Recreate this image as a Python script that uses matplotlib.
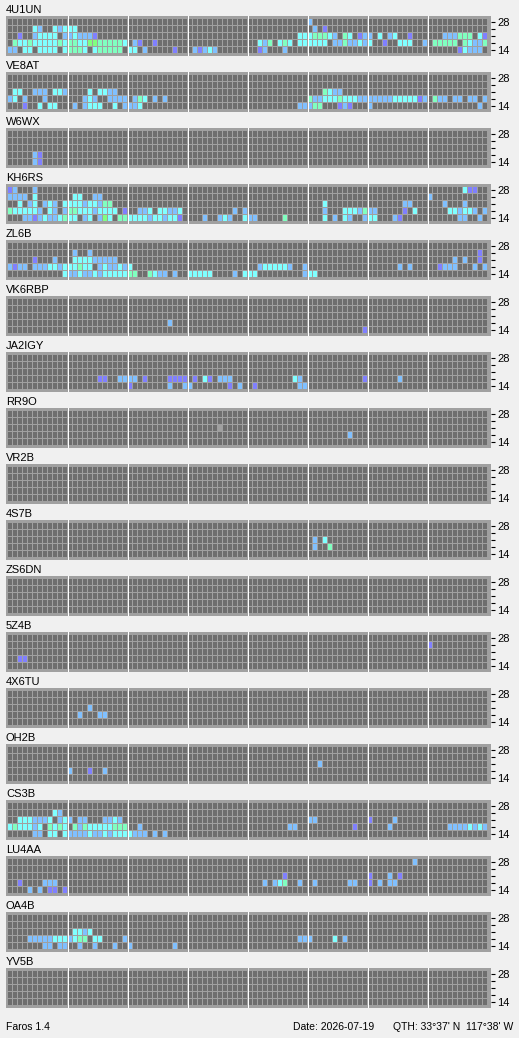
import numpy as np
import matplotlib
matplotlib.use('Agg')
import matplotlib.pyplot as plt
from matplotlib.colors import ListedColormap

plt.rcParams['font.family'] = ['Liberation Sans', 'DejaVu Sans']

# beacon panels, top to bottom
beacons = ['4U1UN', 'VE8AT', 'W6WX', 'KH6RS', 'ZL6B', 'VK6RBP', 'JA2IGY', 'RR9O', 'VR2B',
           '4S7B', 'ZS6DN', '5Z4B', '4X6TU', 'OH2B', 'CS3B', 'LU4AA', 'OA4B', 'YV5B']
bands = ['28', '', '', '', '14']   # row labels, top to bottom
n_slots = 96                        # 15 minute slots over 24 h

# heard spots per beacon: 5 rows (28 .. 14 MHz), "slot:level"
# level 1 weak .. 5 strong, 0 = heard but not decoded
spots = [
    ['60:2',
     '5:3 6:2 9:3 10:2 11:3 12:3 13:3 61:2 63:1',
     '2:1 5:2 6:3 7:3 8:3 9:3 11:2 12:2 13:3 14:2 15:2 16:2 17:1 58:3 59:3 60:3 61:4 62:4 63:4 64:3 65:2 '
     '67:4 68:3 70:1 71:2 72:2 74:3 76:2 77:3 80:1 87:2 88:2 89:2 90:4 91:4 92:4 94:3 95:1',
     '1:4 2:3 3:3 4:4 5:3 6:3 7:3 8:3 9:3 10:4 11:3 12:4 13:4 14:3 15:3 16:5 17:5 18:4 19:4 20:4 21:4 22:4 '
     '23:3 25:2 26:1 29:1 50:3 51:2 52:4 54:3 55:4 56:3 58:3 59:3 60:3 61:3 62:3 63:3 65:2 66:2 67:4 68:2 '
     '69:2 70:3 71:2 72:3 75:1 78:3 79:3 80:3 83:2 85:4 86:4 87:4 88:4 89:4 91:4 92:3 93:2 94:2 95:4',
     '0:2 1:2 3:3 4:3 6:3 7:3 8:3 9:3 11:3 12:4 13:4 14:4 15:3 17:3 18:4 19:4 20:4 21:4 22:4 24:3 25:3 '
     '27:2 33:1 37:2 38:1 39:2 40:3 41:2 50:1 51:2 55:2 90:1 91:3 92:2 93:2 94:2'],
    ['',
     '',
     '1:3 2:3 5:2 6:2 7:2 9:3 10:3 11:2 16:3 18:3 19:3 20:2 21:2 63:4 64:3 65:2 66:2',
     '0:2 1:3 3:2 7:2 15:2 16:3 17:2 20:2 21:2 22:2 23:2 25:2 26:4 27:3 29:2 31:2 60:4 61:2 62:2 63:3 64:3 '
     '65:3 66:4 67:3 68:3 69:3 70:2 71:2 72:2 73:2 74:2 75:2 76:2 77:3 78:3 79:3 80:3 81:3 82:1 83:2 85:4 '
     '86:2 87:2 89:2 90:2 92:2 93:2 95:2',
     '3:1 6:3 8:3 9:3 13:2 15:2 16:3 17:3 18:3 21:3 23:2 24:2 25:2 26:3 58:2 59:2 60:2 61:4 62:4 66:1 67:2 '
     '68:1 72:2 94:2'],
    ['', '', '', '5:2 6:1', '5:2 6:1'],
    ['0:1 1:2 5:2 91:3 92:1 93:1',
     '0:2 1:2 2:2 3:2 5:3 13:3 14:3 17:2 18:2 84:2',
     '2:3 4:2 5:3 7:2 8:3 9:2 11:3 12:3 13:3 14:3 15:2 16:3 17:3 18:2 19:4 20:4 63:3 79:2 80:2 87:2 91:2',
     '0:4 1:3 2:3 3:3 4:3 5:3 6:2 8:3 9:2 11:2 12:4 13:4 14:3 15:3 16:3 17:2 18:3 19:3 20:3 21:3 23:1 26:2 '
     '27:2 28:3 30:3 31:3 32:2 33:2 34:3 45:2 47:2 63:2 67:3 68:3 69:3 70:2 71:4 72:2 73:2 79:1 81:3 88:3 '
     '89:3 90:2 91:3 92:3 93:2 95:2',
     '3:2 4:2 5:1 6:2 7:3 8:2 9:2 10:3 11:4 12:3 13:3 15:2 16:3 18:2 19:5 20:3 22:4 23:4 24:3 25:3 26:3 '
     '27:3 28:2 29:3 30:3 31:2 32:3 33:3 34:1 39:2 42:2 43:3 44:2 47:3 48:2 49:2 55:4 63:3 65:2 67:3 68:2 '
     '71:2 72:3 73:3 77:2 78:1 90:2 91:2 94:2'],
    ['',
     '13:2 16:2 94:1',
     '5:1 9:2 13:3 14:3 15:3 16:3 17:2 18:2 19:2 20:2 21:2 89:2 91:2 94:1',
     '0:2 1:1 2:2 3:2 5:2 6:2 7:2 8:3 9:3 10:2 11:3 12:3 13:3 14:4 15:3 16:3 18:2 19:3 20:2 21:2 22:3 23:2 '
     '24:3 50:2 51:3 52:3 53:3 54:3 55:3 56:2 59:2 78:2 80:2 86:1 87:2 88:2 89:2 93:2 95:2',
     '11:3 12:2 13:2 14:3 15:2 16:2 17:3 18:2 19:3 20:3 21:3 22:3 23:3 24:4 25:4 28:4 29:3 30:2 31:2 33:2 '
     '36:3 37:3 38:3 39:3 40:3 45:2 47:3 48:3 49:3 59:2 60:3 61:3'],
    ['', '', '', '32:2', '71:1'],
    ['', '', '',
     '18:1 19:1 22:2 23:2 24:2 25:2 27:1 32:1 33:1 34:1 35:1 37:1 39:3 40:1 42:2 43:2 44:2 57:3 58:2 71:1 78:2',
     '24:1 32:2 35:2 36:2 44:1 46:2 49:1 58:2 59:2'],
    ['', '', '42:0', '68:2', ''],
    ['', '', '', '', ''],
    ['', '', '61:2 63:3', '61:2 64:4', ''],
    ['', '', '', '', ''],
    ['', '84:1', '', '2:1 3:1', ''],
    ['', '', '16:2', '14:2 18:2 19:2', ''],
    ['', '', '62:2', '12:2 16:1 19:2', ''],
    ['',
     '9:3 10:2',
     '2:3 3:3 4:3 5:2 6:2 7:2 8:3 10:2 11:3 12:2 14:2 15:2 19:2 20:2 21:3 22:2 60:2 61:2 72:1 77:2',
     '0:3 1:4 2:3 3:3 4:3 5:2 6:3 8:4 9:3 10:4 11:3 13:4 14:2 15:4 16:3 17:3 18:3 19:3 20:3 21:4 22:4 23:4 '
     '26:2 56:2 57:2 69:1 76:2 88:2 89:2 90:2 91:2 92:3 93:2 94:3 95:2',
     '5:2 6:2 8:3 9:3 11:3 12:2 13:2 14:2 15:2 16:3 17:2 18:2 19:3 20:2 21:3 22:3 23:3 24:3 25:2 26:2 '
     '27:2 29:2 31:2'],
    ['81:2',
     '',
     '55:1 72:1 76:2 78:1',
     '2:1 7:2 8:2 9:2 51:2 53:2 54:3 55:4 58:2 61:2 68:2 69:2 72:1 74:2 76:2 77:2',
     '4:2 6:2 8:1 9:1 11:1'],
    ['',
     '',
     '13:3 14:3 15:2 16:3',
     '4:2 5:2 6:2 7:2 8:2 9:3 10:3 11:3 12:2 13:3 14:4 15:4 17:3 18:3 23:2 58:2 59:2 60:2 65:3 67:2',
     '7:2 8:2 10:2 11:2 14:2 17:2 21:2 24:2 33:2'],
    ['', '', '', '', ''],
]

# empty, not decoded, level 1..5
cmap = ListedColormap(['#6e6e6e', '#a0a0a0', '#8080ff', '#80c0ff', '#80ffff', '#80ffc0', '#80ff80'])

W, H = 519, 1038
fig = plt.figure(figsize=(W / 100, H / 100), dpi=100)
fig.patch.set_facecolor('#f0f0f0')


def px_axes(x, y, w, h):
    return fig.add_axes([x / W, 1 - (y + h) / H, w / W, h / H])


slots = np.arange(n_slots)
for k, name in enumerate(beacons):
    grid = np.zeros((5, n_slots), dtype=int)
    for r, row in enumerate(spots[k]):
        for item in row.split():
            c, lev = item.split(':')
            grid[4 - r, int(c)] = int(lev) + 1

    top = 16 + 56 * k
    ax = px_axes(6, top, 485, 40)
    ax.set_facecolor('#a0a0a0')
    for r in range(5):
        ax.bar(slots, 6 / 7, bottom=r + 0.5 / 7, width=0.8, color=cmap(grid[r]),
               linewidth=0, antialiased=False)
    # 3 hour dividers
    for x in range(12, n_slots, 12):
        ax.axvline(x - 0.5, color='white', lw=0.5, antialiased=False)
    ax.set_xlim(-0.8, n_slots + 0.2)
    ax.set_ylim(-0.4, 5.314)
    ax.set_xticks([])
    ax.yaxis.tick_right()
    ax.set_yticks(np.arange(5) + 0.5)
    ax.set_yticklabels(bands[::-1])
    ax.tick_params(axis='y', length=3, width=0.8, pad=1.5, labelsize=8, colors='black')
    for s in ax.spines.values():
        s.set_visible(False)

    fig.text(6 / W, 1 - (top - 3) / H, name, fontsize=8, va='baseline')

# footer
fig.text(6 / W, 1 - 1030 / H, 'Faros 1.4', fontsize=7.5, va='baseline')
fig.text(293 / W, 1 - 1030 / H, 'Date: 2026-07-19', fontsize=7.5, va='baseline')
fig.text(513 / W, 1 - 1030 / H, "QTH: 33\u00b037' N  117\u00b038' W", fontsize=7.5,
         va='baseline', ha='right')

fig.savefig('out.png', dpi=100, facecolor=fig.get_facecolor())
